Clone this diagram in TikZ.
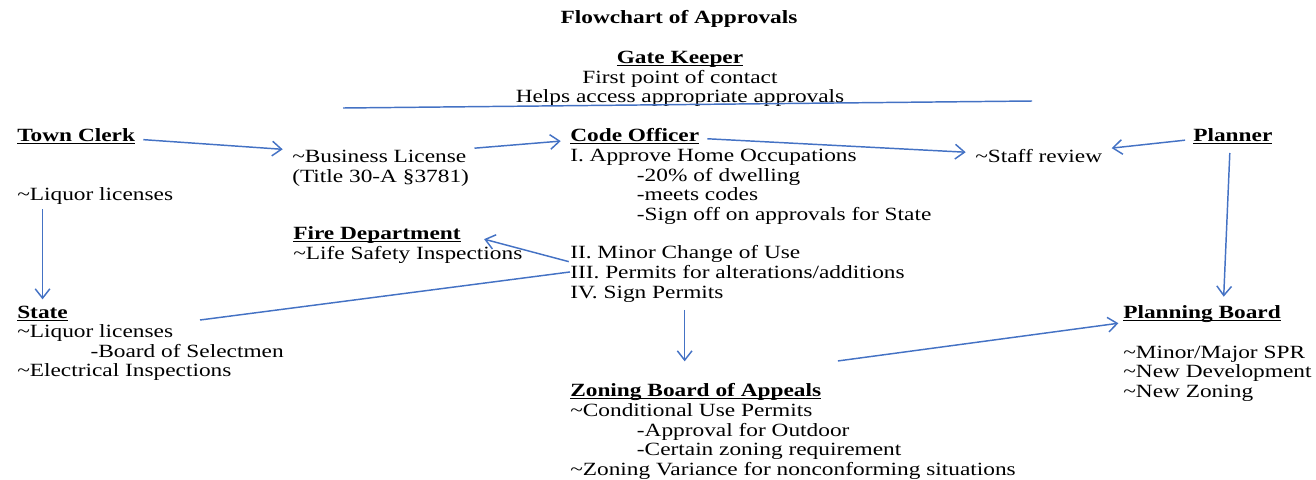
\documentclass[tikz,border=0pt]{standalone}
\usepackage{fontspec}
\setmainfont{Liberation Serif}[FakeStretch=1.25]
\usetikzlibrary{positioning,arrows.meta}
\definecolor{lineblue}{RGB}{68,114,196}
\newcommand{\hd}[1]{\setbox0=\hbox{\textbf{#1}}\rlap{\rule[-1.7pt]{\wd0}{0.7pt}}\box0}
\newcommand{\ind}{\hspace*{50pt}}
\newcommand{\fs}{\rule{0pt}{12.5pt}}
\newcommand{\ls}{\rule[-2.1pt]{0pt}{2.1pt}}

\begin{document}
\begin{tikzpicture}[
    x=0.75pt, y=-0.75pt,
    >={Straight Barb[length=7pt,width=11pt]},
    txt/.style ={
        inner sep=0pt,
        align=left,
        font=\fontsize{14pt}{14.6pt}\selectfont
    },
    one/.style ={
        txt,
        text height=12.5pt,
        text depth=2.1pt
    },
    flow/.style ={
        ->,
        lineblue,
        line width=1.1pt,
        shorten <=6pt,
        shorten >=7pt
    },
    link/.style ={
        lineblue,
        line width=1.1pt
    }
    ]
    \useasboundingbox (0,0) rectangle (1316,479);

    \node[one, font=\fontsize{14pt}{14.6pt}\selectfont\bfseries] (title) at (679,17) {Flowchart of Approvals};
    \node[txt, align=center, anchor=north] (gate) at (680,47)
        {\fs\hd{Gate Keeper}\\First point of contact\\Helps access appropriate approvals\ls};
    \coordinate (gateleft) at (343,108);
    \coordinate (gateright) at (1032,101);

    % left column
    \node[one, anchor=west] (clerk) at (17,135) {\hd{Town Clerk}};
    \node[one, anchor=west] (liquor) at (17,194) {\textasciitilde Liquor licenses};
    \node[one, anchor=west] (state) at (17,312) {\hd{State}};
    \node[txt, anchor=north west] (statebody) at ([yshift=1pt]state.south west)
        {\fs\textasciitilde Liquor licenses\\\hspace*{55pt}-Board of Selectmen\\\textasciitilde Electrical Inspections\ls};
    \coordinate (stateend) at (200,320);

    % middle
    \node[one, anchor=west] (business) at (292,156) {\textasciitilde Business License};
    \node[one, anchor=north west] (title30) at (business.south west) {(Title 30-A §3781)};
    \node[one, anchor=west] (fire) at (293,233) {\hd{Fire Department}};
    \node[one, anchor=north west] (firebody) at (fire.south west) {\textasciitilde Life Safety Inspections};

    \node[one, anchor=west] (code) at (570,135) {\hd{Code Officer}};
    \node[txt, anchor=north west] (codeI) at (code.south west)
        {\fs I. Approve Home Occupations\\\ind -20\% of dwelling\\\ind -meets codes\\\ind -Sign off on approvals for State\ls};
    \node[one, anchor=north west] (codeII) at ([yshift=-13pt]codeI.south west) {II. Minor Change of Use};
    \node[one, anchor=north west] (codeIII) at (codeII.south west) {III. Permits for alterations/additions};
    \node[one, anchor=north west] (codeIV) at (codeIII.south west) {IV. Sign Permits};

    \node[one, anchor=west] (zba) at (570,390) {\hd{Zoning Board of Appeals}};
    \node[txt, anchor=north west] (zbabody) at (zba.south west)
        {\fs\textasciitilde Conditional Use Permits\\\ind -Approval for Outdoor\\\ind -Certain zoning requirement\\\textasciitilde Zoning Variance for nonconforming situations\ls};
    \coordinate (zbaout) at (830,362);

    % right
    \node[one, anchor=west] (staff) at (975,156) {\textasciitilde Staff review};
    \node[one, anchor=west] (planner) at (1193,135) {\hd{Planner}};
    \node[one, anchor=west] (pboard) at (1123,312) {\hd{Planning Board}};
    \node[txt, anchor=north west] (pboardbody) at ([yshift=-14.6pt]pboard.south west)
        {\fs\textasciitilde Minor/Major SPR\\\textasciitilde New Development\\\textasciitilde New Zoning\ls};

    \draw[link] (gateleft) -- (gateright);
    \foreach \src/\dst in {clerk/business, business/code, code/staff, planner/staff, zbaout/pboard}
        \path[flow] (\src) edge (\dst);
    \draw[flow, shorten <=4pt, shorten >=2pt] (state |- liquor.south) -- (state.north);
    \draw[flow, shorten >=4pt] ([xshift=-2pt]planner.south) -- ([xshift=-7pt]planner.south |- pboard.north);
    \draw[flow, shorten <=1pt, shorten >=18pt] (codeIII.north west) -- (fire.east);
    \draw[link] (codeIII.west) -- (stateend);
    \draw[flow, shorten >=14pt] ([xshift=86pt]zba.north west |- codeIV.south) -- ([xshift=86pt]zba.north west);
\end{tikzpicture}
\end{document}
